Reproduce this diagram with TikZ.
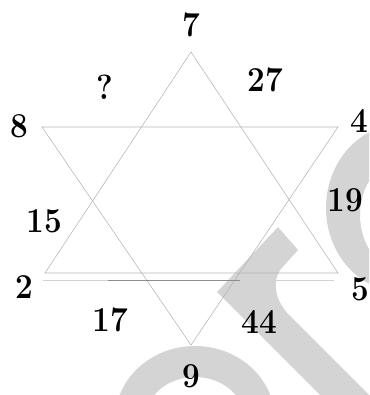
\documentclass[tikz,border=0pt]{standalone}
\definecolor{wm}{HTML}{D4D4D4}
\definecolor{starline}{HTML}{B4B4B4}
\definecolor{darkline}{HTML}{8E8E8E}
\begin{document}
\begin{tikzpicture}[x=1pt,y=-1pt,
  lbl/.style={inner sep=0pt, font=\fontsize{35}{35}\selectfont\bfseries, xscale=0.9},
  edge/.style={draw=starline, line width=0.55pt},
  wmfill/.style={fill=wm}]
\useasboundingbox (0,0) rectangle (369,395);
\clip (0,0) rectangle (369,395);
% watermark
\fill[wmfill, even odd rule] (402,208) ellipse [x radius=76, y radius=84]
                             (402,215) ellipse [x radius=42, y radius=55];
\fill[wmfill, even odd rule] (195,420) ellipse [x radius=80, y radius=74]
                             (195,420) ellipse [x radius=50, y radius=43];
\fill[wmfill] (278,227) -- (298,250) -- (280,270)
   .. controls (273,282) and (274,298) .. (288,314) -- (380,406)
   -- (331,406) -- (217,292) -- cycle;
% star vertices
\coordinate (A) at (191,52);
\coordinate (B) at (338,273);
\coordinate (C) at (45,273);
\coordinate (D) at (42,127);
\coordinate (E) at (338,127);
\coordinate (F) at (191,345);
\coordinate (L1) at (43,280);
\coordinate (L2) at (334,280);
\coordinate (M1) at (108,280);
\coordinate (M2) at (240,280);
\draw[edge] (A) -- (B) -- (C) -- cycle;
\draw[edge] (D) -- (E) -- (F) -- cycle;
\draw[draw=starline!60, line width=0.5pt] (L1) -- (L2);
\draw[draw=darkline, line width=0.6pt] (M1) -- (M2);
% labels
\node[lbl] (n7) at (191,25) {7};
\node[lbl] (n8) at (19,126) {8};
\node[lbl] (n4) at (359,121) {4};
\node[lbl] (n2) at (24,287) {2};
\node[lbl] (n5) at (360,289) {5};
\node[lbl] (n9) at (191,376) {9};
\node[lbl] (q)  at (105,87) {?};
\node[lbl] (n27) at (265,80) {27};
\node[lbl] (n15) at (44,221) {15};
\node[lbl] (n19) at (345,200) {19};
\node[lbl] (n17) at (110,320) {17};
\node[lbl] (n44) at (259,322) {44};
\end{tikzpicture}
\end{document}
